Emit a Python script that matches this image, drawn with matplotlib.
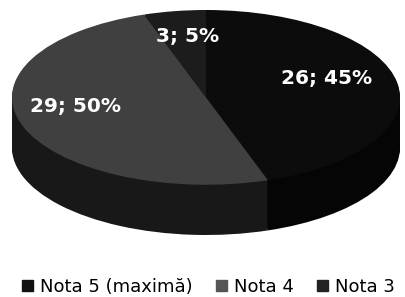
import matplotlib.pyplot as plt
import numpy as np

labels = ["Nota 5 (maximă)", "Nota 4", "Nota 3"]
counts = [26, 29, 3]
percents = [45, 50, 5]

top_colors = ["#0c0c0c", "#404040", "#1c1c1c"]
side_colors = ["#050505", "#181818", "#0a0a0a"]

fig = plt.figure(figsize=(4.05, 2.97), dpi=100)
# axes box in pixels: x 12..400, y 10..235 (from top)
ax = fig.add_axes([12 / 405, 1 - 235 / 297, 388 / 405, 225 / 297])

depth = 0.575
# side of the 3D pie: stacked copies shifted down
for d in np.linspace(depth, 0.02, 30):
    ax.pie(counts, colors=side_colors, startangle=90, counterclock=False,
           center=(0, -d), radius=1, frame=True,
           wedgeprops=dict(linewidth=0))

it = iter(range(len(counts)))


def fmt(pct):
    i = next(it)
    return f"{counts[i]}; {percents[i]}%"


wedges, texts, autotexts = ax.pie(
    counts, colors=top_colors, startangle=90, counterclock=False,
    center=(0, 0), radius=1, frame=True, autopct=fmt, pctdistance=0.66,
    wedgeprops=dict(linewidth=0),
    textprops=dict(color="white", fontsize=14.5, fontweight="bold",
                   family="DejaVu Sans"))
# nudge labels the way the original places them
for t, (dx, dy) in zip(autotexts, [(-0.03, 0.115), (-0.045, 0.105), (0.01, 0.05)]):
    x, y = t.get_position()
    t.set_position((x + dx, y + dy))

ax.set_aspect("auto")
ax.set_xlim(-1, 1)
ax.set_ylim(-1 - depth, 1)
ax.axis("off")

handles = [plt.Rectangle((0, 0), 1, 1, color=c) for c in ["#111111", "#555555", "#222222"]]
fig.legend(handles, labels, loc="center", ncol=3, frameon=False,
           bbox_to_anchor=(0.515, 1 - 287 / 297), fontsize=13,
           handlelength=0.58, handleheight=0.58, handletextpad=0.4,
           columnspacing=1.3, borderpad=0, borderaxespad=0)

plt.savefig("out.png", dpi=100)
